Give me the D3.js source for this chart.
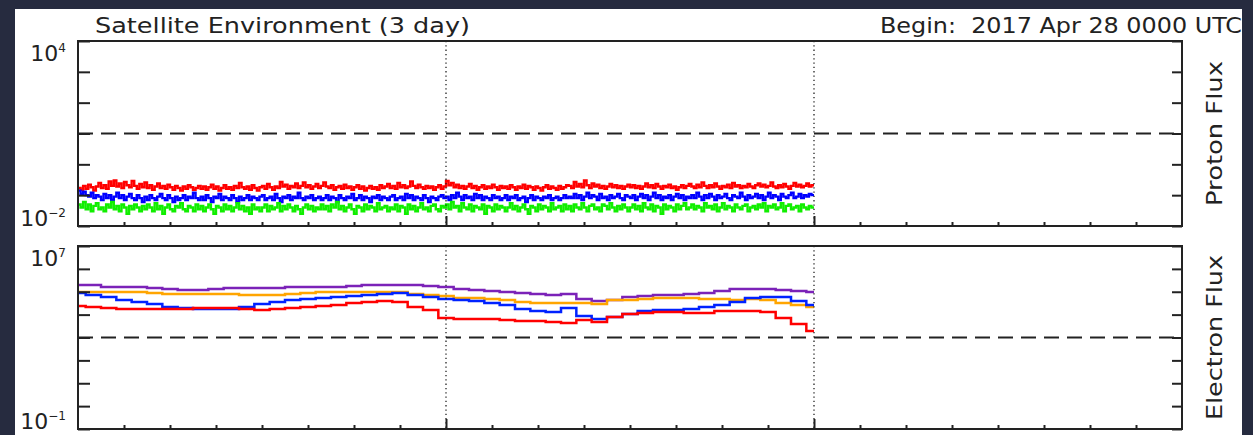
<!DOCTYPE html>
<html>
<head>
<meta charset="utf-8">
<script src="https://cdn.jsdelivr.net/npm/d3@7"></script>
<style>
  body { margin: 0; background: #262b3f; }
  svg { display: block; font-family: "DejaVu Sans", sans-serif; }
</style>
</head>
<body>
<script>
// GOES proton flux, 10 min samples over the first 48 h (pfu)
var protonRed = [.17,.15,.2,.16,.22,.18,.14,.19,.25,.17,.21,.16,.28,.2,.3,.19,.24,.17,.27,.21,.18,.29,.2,.16,
  .23,.18,.26,.17,.21,.15,.19,.24,.17,.2,.16,.22,.18,.15,.2,.17,.14,.19,.16,.21,.18,.15,.17,.2,
  .16,.19,.15,.18,.22,.16,.19,.14,.17,.21,.16,.18,.15,.2,.17,.25,.18,.16,.19,.15,.21,.17,.14,.18,
  .2,.16,.23,.18,.15,.19,.17,.27,.19,.22,.16,.2,.18,.24,.17,.2,.26,.18,.21,.16,.19,.23,.17,.2,
  .26,.19,.17,.21,.15,.18,.2,.16,.22,.17,.19,.15,.18,.21,.16,.19,.14,.17,.2,.16,.18,.15,.21,.17,
  .19,.23,.17,.2,.16,.25,.18,.21,.17,.19,.28,.2,.17,.22,.18,.16,.2,.17,.19,.15,.18,.21,.16,.19,
  .29,.21,.25,.18,.22,.17,.2,.16,.19,.23,.17,.2,.15,.18,.21,.16,.19,.17,.22,.18,.15,.2,.17,.19,
  .16,.21,.18,.15,.19,.17,.22,.16,.2,.18,.15,.19,.17,.14,.18,.21,.16,.19,.17,.15,.2,.16,.18,.21,
  .2,.17,.27,.19,.23,.18,.3,.21,.17,.24,.19,.22,.17,.2,.16,.19,.23,.18,.21,.17,.2,.16,.19,.22,
  .18,.21,.17,.2,.16,.19,.24,.18,.21,.17,.23,.19,.16,.2,.18,.22,.17,.19,.15,.18,.21,.17,.2,.23,
  .19,.17,.22,.18,.26,.2,.17,.21,.18,.24,.19,.16,.2,.18,.22,.17,.25,.19,.21,.17,.2,.18,.23,.19,
  .17,.21,.24,.19,.22,.18,.2,.26,.19,.17,.21,.18,.23,.19,.16,.2,.25,.19,.22,.18,.2,.24,.19,.21]
var protonBlue = [.14,.11,.13,.1,.09,.12,.08,.1,.09,.07,.11,.08,.1,.07,.09,.12,.08,.1,.07,.09,.11,.08,.07,.1,
  .08,.06,.09,.07,.1,.08,.07,.09,.11,.08,.07,.1,.08,.06,.09,.07,.08,.1,.07,.09,.08,.12,.08,.07,
  .09,.07,.1,.08,.06,.09,.08,.11,.07,.09,.08,.07,.1,.08,.06,.09,.07,.08,.1,.07,.09,.08,.07,.09,
  .1,.07,.08,.09,.07,.11,.08,.06,.09,.08,.1,.07,.09,.08,.12,.08,.07,.09,.08,.1,.07,.08,.09,.07,
  .08,.1,.07,.09,.08,.06,.1,.08,.07,.09,.08,.11,.07,.08,.1,.07,.09,.08,.06,.09,.08,.1,.07,.09,
  .08,.07,.09,.1,.07,.08,.09,.07,.11,.08,.1,.07,.09,.08,.07,.1,.08,.06,.09,.08,.07,.09,.1,.08,
  .09,.07,.1,.08,.12,.09,.07,.1,.08,.09,.07,.11,.08,.1,.07,.09,.08,.07,.1,.08,.09,.07,.08,.1,
  .07,.09,.08,.1,.07,.08,.09,.06,.08,.1,.07,.09,.08,.07,.09,.08,.1,.07,.08,.09,.07,.08,.1,.08,
  .09,.08,.11,.08,.1,.07,.09,.12,.08,.1,.09,.07,.11,.08,.09,.07,.1,.08,.09,.11,.08,.07,.1,.09,
  .08,.1,.07,.09,.11,.08,.1,.07,.09,.12,.08,.1,.07,.09,.08,.1,.07,.09,.11,.08,.1,.07,.09,.08,
  .1,.08,.12,.09,.07,.1,.08,.11,.09,.07,.1,.08,.09,.11,.08,.07,.1,.09,.08,.12,.09,.07,.1,.08,
  .09,.11,.08,.1,.07,.09,.12,.08,.1,.09,.07,.11,.09,.08,.1,.12,.08,.09,.11,.08,.1,.09,.11,.1]
var protonGreen = [.05,.04,.06,.035,.05,.03,.045,.055,.035,.04,.03,.05,.04,.06,.035,.045,.03,.05,.04,.025,.045,.035,.05,.04,
  .03,.045,.035,.05,.04,.03,.055,.035,.045,.025,.04,.05,.035,.03,.045,.04,.055,.035,.03,.045,.04,.03,.05,.035,
  .045,.03,.04,.05,.035,.025,.045,.04,.03,.05,.035,.045,.03,.04,.055,.035,.045,.03,.04,.025,.05,.035,.04,.03,
  .04,.05,.03,.045,.035,.04,.055,.03,.045,.035,.05,.04,.03,.045,.035,.025,.04,.05,.035,.045,.03,.04,.035,.05,
  .035,.045,.03,.05,.04,.06,.035,.045,.03,.04,.05,.035,.025,.045,.04,.03,.05,.035,.045,.04,.03,.055,.035,.04,
  .045,.03,.04,.035,.05,.03,.045,.04,.025,.05,.035,.045,.03,.04,.055,.035,.04,.03,.045,.05,.035,.03,.045,.04,
  .05,.035,.06,.04,.045,.03,.055,.04,.035,.05,.03,.045,.04,.035,.05,.025,.045,.04,.03,.05,.035,.045,.04,.03,
  .04,.055,.035,.045,.03,.04,.05,.035,.025,.045,.04,.03,.05,.035,.045,.04,.03,.055,.035,.04,.045,.03,.05,.035,
  .045,.03,.05,.04,.035,.055,.04,.03,.045,.05,.035,.04,.03,.05,.045,.035,.055,.04,.03,.045,.035,.05,.04,.03,
  .04,.05,.035,.045,.03,.055,.04,.035,.05,.03,.045,.04,.025,.05,.035,.045,.04,.03,.05,.035,.045,.055,.035,.04,
  .05,.035,.045,.04,.03,.055,.04,.045,.035,.05,.03,.04,.055,.035,.045,.04,.03,.05,.04,.035,.045,.05,.03,.04,
  .045,.035,.05,.04,.055,.03,.045,.04,.05,.035,.04,.055,.03,.045,.05,.035,.04,.045,.03,.05,.04,.035,.045,.04]

// GOES electron flux, hourly over the first 48 h
var elecPurple = [197000,197000,161000,161000,161000,146000,132000,119000,119000,132000,146000,146000,146000,146000,161000,161000,161000,161000,178000,197000,197000,197000,197000,178000,161000,132000,119000,108000,97500,88000,79800,72000,79800,48000,39400,43600,59000,65000,72000,72000,79800,88000,108000,132000,132000,132000,119000,108000,97500]
var elecOrange = [97500,97500,97500,97500,97500,88000,79800,79800,79800,79800,79800,72000,72000,72000,79800,88000,97500,97500,97500,97500,97500,97500,79800,72000,65000,53000,53000,48000,43600,35600,32000,32000,32000,32000,29000,43600,43600,48000,53000,53000,53000,48000,48000,43600,48000,43600,32000,26400,21500]
var elecBlue = [88000,72000,59000,43600,35600,29000,21500,19500,17600,17600,17600,21500,29000,35600,43600,48000,53000,59000,65000,72000,79800,88000,72000,59000,48000,43600,39400,32000,26400,17600,14400,13000,19500,8700,6400,7900,10600,14400,15900,15900,17600,21500,26400,35600,53000,59000,59000,39400,26400]
var elecRed = [23800,21500,19500,17600,17600,17600,17600,17600,19500,19500,19500,17600,15900,17600,19500,21500,23800,26400,32000,35600,39400,35600,21500,15900,7100,6400,6400,6400,5800,5300,5300,4800,4300,5800,4800,7900,10600,11800,13000,13000,11800,11800,14400,14400,14400,13000,7100,3900,1920]

var protonThreshold = 10
var electronThreshold = 1000
var titleText = 'Satellite Environment (3 day)'
var beginText = 'Begin:  2017 Apr 28 0000 UTC'

var width = 1253, height = 435
var left = 78, right = 1182
var ink = '#222'

var svg = d3.select('body').append('svg')
    .attr('width', width)
    .attr('height', height)

svg.append('rect')
    .attr('x', 15).attr('y', 9)
    .attr('width', 1227).attr('height', 426)
    .attr('fill', '#fff')

var x = d3.scaleLinear().domain([0, 72]).range([left, right])

var panels = [
  { top: 41, bottom: 226, domain: [1e-2, 1e4], hiExp: '4', loExp: '\u22122', label: 'Proton Flux', labelLen: 145,
    threshold: protonThreshold, step: 1 / 6,
    series: [{ v: protonRed, c: '#ff0000' }, { v: protonBlue, c: '#0000ff' }, { v: protonGreen, c: '#11ee00' }] },
  { top: 246, bottom: 429, domain: [1e-1, 1e7], hiExp: '7', loExp: '\u22121', label: 'Electron Flux', labelLen: 165,
    threshold: electronThreshold, step: 1,
    series: [{ v: elecPurple, c: '#7b22b8' }, { v: elecOrange, c: '#ffa500' }, { v: elecBlue, c: '#0022ff' }, { v: elecRed, c: '#ff0000' }] }
]

panels.forEach(function (p) {
  var y = d3.scaleLog().domain(p.domain).range([p.bottom, p.top])
  var g = svg.append('g')
  var decades = d3.range(Math.log10(p.domain[0]), Math.log10(p.domain[1]) + 1).map(function (e) { return Math.pow(10, e) })

  // clip the traces to the plot area
  var clipId = 'clip' + p.top
  g.append('clipPath').attr('id', clipId)
    .append('rect').attr('x', left).attr('y', p.top).attr('width', right - left).attr('height', p.bottom - p.top)

  var traces = g.append('g').attr('clip-path', 'url(#' + clipId + ')')
  p.series.forEach(function (s) {
    var pts = s.v.map(function (d, i) { return [i * p.step, d] })
    pts.push([48, s.v[s.v.length - 1]])
    traces.append('path')
        .datum(pts)
        .attr('fill', 'none')
        .attr('stroke', s.c)
        .attr('stroke-width', p.step < 1 ? 2.4 : 2.5)
        .attr('d', d3.line()
          .curve(p.step < 1 ? d3.curveStepAfter : d3.curveStep)
          .x(function (d) { return x(d[0]) })
          .y(function (d) { return y(d[1]) }))
  })

  // threshold line
  g.append('line')
      .attr('x1', left).attr('x2', right)
      .attr('y1', y(p.threshold)).attr('y2', y(p.threshold))
      .attr('stroke', ink).attr('stroke-width', 2)
      .attr('stroke-dasharray', '15,8')

  // day boundaries
  g.selectAll('.day').data([24, 48]).enter().append('line')
      .attr('x1', function (d) { return x(d) }).attr('x2', function (d) { return x(d) })
      .attr('y1', p.top).attr('y2', p.bottom)
      .attr('stroke', ink).attr('stroke-width', 1.3)
      .attr('stroke-dasharray', '1.3,3')

  // axes: ticks point inward, no labels
  g.append('g').attr('transform', 'translate(' + left + ',0)')
    .call(d3.axisRight(y).tickValues(decades).tickSize(12).tickFormat(''))
  g.append('g').attr('transform', 'translate(' + right + ',0)')
    .call(d3.axisLeft(y).tickValues(decades).tickSize(10).tickFormat(''))
  g.append('g').attr('transform', 'translate(0,' + p.bottom + ')')
    .call(d3.axisTop(x).tickValues(d3.range(3, 72, 3).filter(function (h) { return h % 24 })).tickSize(4).tickFormat(''))
  g.append('g').attr('transform', 'translate(0,' + p.bottom + ')')
    .call(d3.axisTop(x).tickValues([24, 48]).tickSize(10).tickFormat(''))
  g.selectAll('.domain').remove()
  g.selectAll('.tick line').attr('stroke', ink).attr('stroke-width', 2)

  g.append('rect')
      .attr('x', left).attr('y', p.top)
      .attr('width', right - left).attr('height', p.bottom - p.top)
      .attr('fill', 'none').attr('stroke', ink).attr('stroke-width', 2)

  // decade labels at top and bottom
  ;[[p.top + 20, p.hiExp], [p.bottom, p.loExp]].forEach(function (d) {
    var t = g.append('text')
        .attr('x', 66).attr('y', d[0])
        .attr('text-anchor', 'end')
        .attr('fill', ink).attr('font-size', 22)
    t.append('tspan').text('10')
    t.append('tspan').attr('dy', -9).attr('font-size', 12).text(d[1])
  })

  g.append('text')
      .attr('transform', 'translate(1222,' + (p.top + p.bottom) / 2 + ') rotate(-90)')
      .attr('text-anchor', 'middle')
      .attr('fill', ink).attr('font-size', 21)
      .attr('textLength', p.labelLen)
      .attr('lengthAdjust', 'spacingAndGlyphs')
      .text(p.label)
})

svg.append('text')
    .attr('x', 95).attr('y', 33)
    .attr('fill', ink).attr('font-size', 22)
    .attr('textLength', 375)
    .attr('lengthAdjust', 'spacingAndGlyphs')
    .text(titleText)

svg.append('text')
    .attr('x', 880).attr('y', 33)
    .attr('fill', ink).attr('font-size', 22)
    .attr('textLength', 362)
    .attr('lengthAdjust', 'spacingAndGlyphs')
    .style('white-space', 'pre')
    .text(beginText)

svg.append('rect')
    .attr('x', 1242).attr('y', 0)
    .attr('width', 11).attr('height', height)
    .attr('fill', '#262b3f')
</script>
</body>
</html>
